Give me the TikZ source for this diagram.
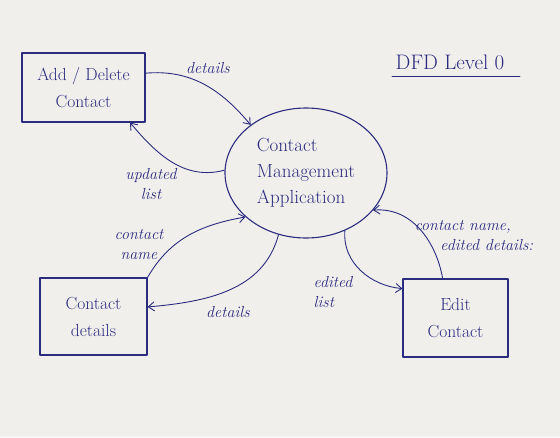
\documentclass[tikz,border=0pt]{standalone}
\usepackage{xcolor}
\usetikzlibrary{calc,shapes.geometric,arrows.meta}
\definecolor{ink}{HTML}{2B2C80}
\definecolor{paper}{HTML}{F1EFEC}
\tikzset{
    box/.style={
        draw=ink, line width=1.1pt, rectangle, text=ink, align=center,
        font=\fontsize{17.5}{27}\selectfont
    },
    bubble/.style={
        draw=ink, line width=1.1pt, ellipse, text=ink, align=left,
        font=\fontsize{19}{26}\selectfont
    },
    lab/.style={
        text=ink, align=center, inner sep=1pt,
        font=\itshape\fontsize{16}{20}\selectfont
    },
    flow/.style={
        draw=ink, line width=0.9pt, -{Straight Barb[length=6pt,width=9pt]}
    }
}

\begin{document}
\begin{tikzpicture}[x=1pt,y=-1pt,line cap=round,line join=round]

% paper
    \fill[paper] (0,0) rectangle (560,437);
    \useasboundingbox (0,0) rectangle (560,437);

% --- processes ---
    \node[bubble, minimum width=162pt, minimum height=130pt] (appl) at (306,173)
        {Contact\\Management\\Application};
    \node[box, minimum width=123pt, minimum height=69pt] (adddel) at (83.5,87.5)
        {Add / Delete\\Contact};
    \node[box, minimum width=107pt, minimum height=77pt] (cdet) at (93.5,316.5)
        {Contact\\details};
    \node[box, minimum width=105pt, minimum height=78pt] (edit) at (455.5,318)
        {Edit\\Contact};

% title
    \node[text=ink, font=\fontsize{21}{24}\selectfont] (title) at (450,62) {DFD Level 0};
    \draw[ink, line width=1pt] ($(title.south west)+(0,4)$) -- ($(title.south east)+(12,4)$);

% --- flows ---
    \draw[flow] (adddel.13) to[out=5, in=130] (appl.139);
    \draw[flow] (appl.178) to[out=195, in=-50] (adddel.-37);
    \draw[flow] (cdet.north east) to[out=60, in=190] (appl.216);
    \draw[flow] (appl.246) to[out=255, in=5] (cdet.10);
    \draw[flow] (appl.304) to[out=-95, in=175] (edit.151);
    \draw[flow] (edit.108) to[out=100, in=5] (appl.331);

% flow labels
    \node[lab] (l1) at (208,68) {details};
    \node[lab] (l2) at (151,184) {updated\\list};
    \node[lab] (l3) at (139,245) {contact\\name};
    \node[lab] (l4) at (228,312) {details};
    \node[lab, align=left] (l5) at (333,292) {edited\\list};
    \node[lab, align=left] (l6) at (474,236) {contact name,\\\hspace*{1.6em}edited details:};

\end{tikzpicture}
\end{document}
